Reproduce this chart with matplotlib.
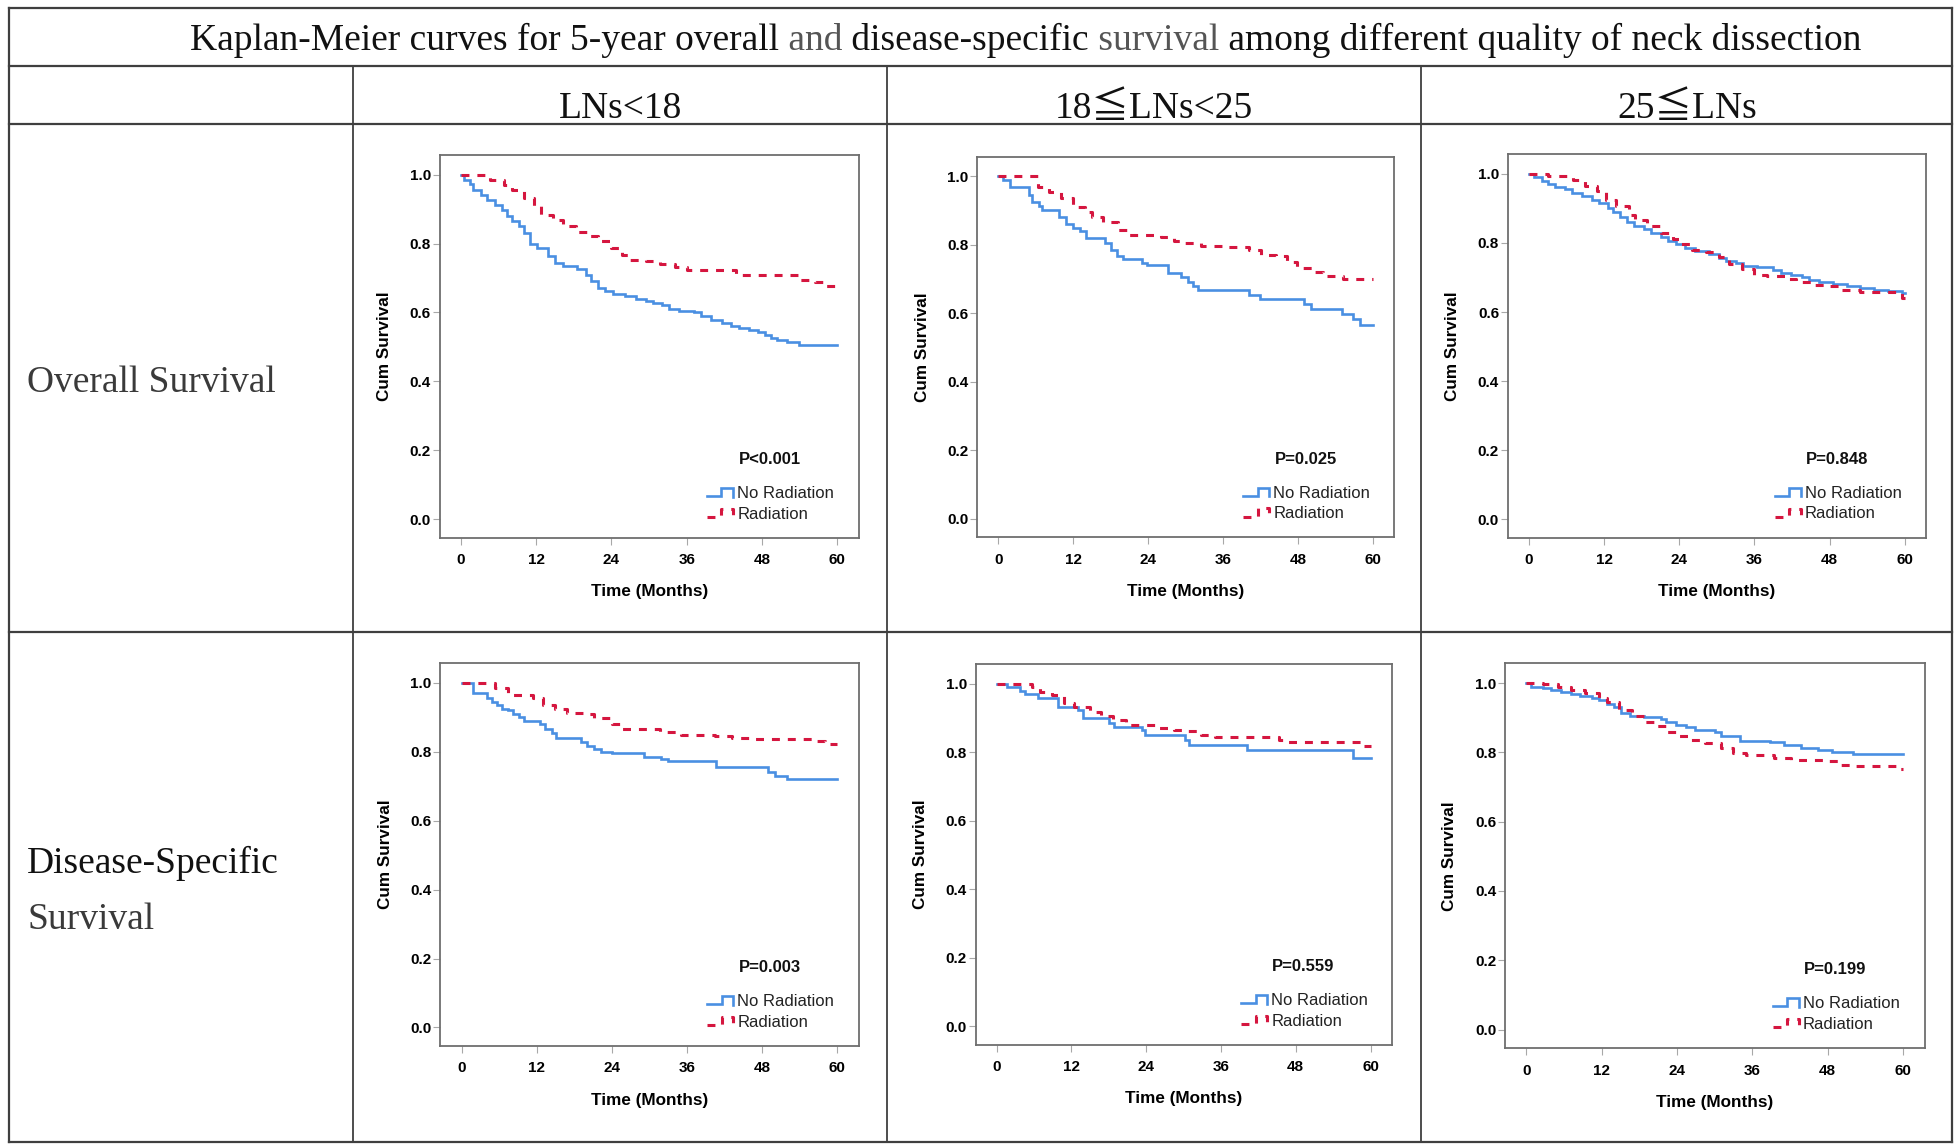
import matplotlib
matplotlib.use("Agg")
import matplotlib.pyplot as plt
from matplotlib.lines import Line2D
from matplotlib.text import Annotation
from matplotlib.legend_handler import HandlerBase
from matplotlib import font_manager

# ---------------- data ----------------
TITLE_PIECES = ["Kaplan-Meier curves for 5-year overall", " and", " disease-specific",
                " survival", " among different quality of neck dissection"]
COLUMN_LABELS = ["LNs<18", "18≦LNs<25", "25≦LNs"]
ROW_LABELS = [["Overall Survival"], ["Disease-Specific", "Survival"]]
SERIES_LABELS = ["No Radiation", "Radiation"]
P_VALUES = ["P<0.001", "P=0.025", "P=0.848", "P=0.003", "P=0.559", "P=0.199"]
X_TICKS = [0, 12, 24, 36, 48, 60]
Y_TICKS = [0.0, 0.2, 0.4, 0.6, 0.8, 1.0]
X_LABEL = "Time (Months)"
Y_LABEL = "Cum Survival"

# Overall survival, LNs<18
OS_LT18_NO_T = [0, 0.5, 1.5, 2.0, 3.2, 4.2, 5.5, 6.5, 7.3, 8.1, 9.2, 10.0, 11.0, 12.2, 13.9, 15.0,
                16.3, 18.5, 19.9, 20.7, 21.8, 22.9, 24.3, 26.2, 27.9, 29.5, 30.6, 32.0, 33.1, 34.7,
                37.2, 38.3, 39.9, 41.6, 43.0, 44.3, 46.0, 47.3, 48.4, 49.5, 50.4, 52.0, 53.9, 60]
OS_LT18_NO_S = [1.0, 0.985, 0.974, 0.955, 0.94, 0.925, 0.912, 0.898, 0.88, 0.864, 0.85, 0.83, 0.80,
                0.787, 0.763, 0.743, 0.736, 0.726, 0.71, 0.69, 0.671, 0.661, 0.654, 0.649, 0.639,
                0.632, 0.627, 0.622, 0.61, 0.605, 0.601, 0.591, 0.579, 0.569, 0.561, 0.555, 0.55,
                0.542, 0.535, 0.526, 0.519, 0.514, 0.506, 0.506]
OS_LT18_RAD_T = [0, 4.6, 6.8, 8.1, 10.0, 11.7, 12.8, 14.7, 16.3, 18.3, 20.2, 21.8, 24.0, 25.7, 27.0,
                 29.5, 31.7, 34.2, 36.1, 43.8, 54.0, 56.4, 58.0, 60]
OS_LT18_RAD_S = [1.0, 0.985, 0.971, 0.955, 0.932, 0.908, 0.884, 0.869, 0.85, 0.833, 0.821, 0.806,
                 0.787, 0.768, 0.753, 0.748, 0.742, 0.731, 0.722, 0.708, 0.693, 0.687, 0.677, 0.677]

# Overall survival, 18<=LNs<25
OS_18_25_NO_T = [0, 0.8, 1.9, 4.9, 5.4, 6.5, 7.0, 9.7, 10.8, 12.0, 13.0, 14.0, 17.0, 18.1, 19.0, 20.0,
                 23.0, 23.8, 27.1, 29.2, 30.3, 31.1, 31.9, 40.1, 41.9, 49.0, 50.1, 55.0, 56.8, 57.9, 60]
OS_18_25_NO_S = [1.0, 0.99, 0.97, 0.944, 0.924, 0.914, 0.9, 0.88, 0.86, 0.85, 0.84, 0.82, 0.806,
                 0.786, 0.767, 0.757, 0.746, 0.74, 0.717, 0.707, 0.69, 0.68, 0.667, 0.652, 0.642,
                 0.628, 0.613, 0.599, 0.584, 0.565, 0.565]
OS_18_25_RAD_T = [0, 6.3, 8.1, 10.0, 11.9, 13.8, 15.0, 16.8, 19.2, 20.6, 26.0, 28.1, 29.8, 32.5, 36.0,
                  40.1, 42.0, 44.4, 46.3, 47.9, 50.4, 52.0, 55.2, 60]
OS_18_25_RAD_S = [1.0, 0.968, 0.953, 0.937, 0.91, 0.895, 0.88, 0.866, 0.842, 0.829, 0.824, 0.81,
                  0.804, 0.796, 0.792, 0.785, 0.771, 0.766, 0.751, 0.731, 0.72, 0.71, 0.70, 0.70]

# Overall survival, 25<=LNs
OS_GE25_NO_T = [0, 0.8, 2.1, 3.0, 4.1, 5.7, 6.8, 8.4, 10.1, 11.2, 12.6, 13.4, 14.5, 15.6, 16.7, 18.3,
                19.4, 21.1, 22.2, 23.5, 24.9, 26.5, 28.7, 30.4, 31.5, 33.1, 34.2, 36.4, 38.9, 40.3,
                41.9, 43.6, 44.7, 46.3, 48.5, 50.7, 52.9, 55.1, 57.3, 59.5, 60]
OS_GE25_NO_S = [1.0, 0.99, 0.98, 0.97, 0.962, 0.955, 0.945, 0.935, 0.925, 0.915, 0.9, 0.89, 0.875,
                0.86, 0.85, 0.84, 0.828, 0.818, 0.806, 0.796, 0.786, 0.776, 0.768, 0.757, 0.748,
                0.742, 0.733, 0.729, 0.722, 0.714, 0.708, 0.702, 0.693, 0.688, 0.682, 0.676, 0.67,
                0.665, 0.661, 0.655, 0.655]
OS_GE25_RAD_T = [0, 3.0, 7.1, 9.0, 10.9, 12.3, 13.9, 15.9, 17.0, 18.9, 21.1, 23.0, 24.1, 26.0, 28.2,
                 30.4, 32.0, 34.0, 35.9, 38.0, 40.8, 42.7, 45.2, 47.4, 49.9, 52.9, 59.5, 60]
OS_GE25_RAD_S = [1.0, 0.993, 0.983, 0.964, 0.95, 0.926, 0.906, 0.882, 0.868, 0.848, 0.829, 0.812,
                 0.798, 0.78, 0.773, 0.76, 0.74, 0.725, 0.708, 0.703, 0.696, 0.686, 0.679, 0.674,
                 0.665, 0.658, 0.64, 0.64]

# Disease-specific survival, LNs<18
DSS_LT18_NO_T = [0, 1.8, 4.0, 4.8, 5.6, 6.4, 7.5, 8.3, 9.2, 10.0, 12.5, 13.3, 14.4, 15.1, 19.0, 20.1,
                 21.2, 22.3, 24.0, 29.2, 31.9, 33.0, 40.7, 49.0, 50.1, 52.0, 60]
DSS_LT18_NO_S = [1.0, 0.97, 0.955, 0.945, 0.935, 0.925, 0.92, 0.91, 0.9, 0.89, 0.88, 0.867, 0.854,
                 0.84, 0.828, 0.818, 0.808, 0.8, 0.797, 0.786, 0.78, 0.773, 0.756, 0.742, 0.729,
                 0.72, 0.72]
DSS_LT18_RAD_T = [0, 5.3, 7.5, 11.4, 13.0, 14.9, 16.8, 19.6, 21.2, 24.0, 25.6, 31.7, 35.0, 40.5,
                  43.2, 46.0, 56.4, 58.0, 60]
DSS_LT18_RAD_S = [1.0, 0.985, 0.965, 0.955, 0.935, 0.925, 0.913, 0.909, 0.898, 0.881, 0.865, 0.859,
                  0.85, 0.845, 0.84, 0.836, 0.831, 0.822, 0.822]

# Disease-specific survival, 18<=LNs<25
DSS_18_25_NO_T = [0, 1.6, 3.7, 4.6, 6.7, 9.8, 13.0, 13.8, 18.1, 18.9, 23.3, 23.8, 30.3, 30.9, 40.1,
                  57.2, 60]
DSS_18_25_NO_S = [1.0, 0.991, 0.98, 0.97, 0.96, 0.931, 0.923, 0.899, 0.886, 0.875, 0.865, 0.85,
                  0.836, 0.821, 0.807, 0.784, 0.784]
DSS_18_25_RAD_T = [0, 5.6, 7.0, 8.9, 10.8, 12.4, 14.9, 16.8, 18.7, 20.8, 26.0, 28.4, 30.5, 32.8,
                   35.0, 45.3, 46.0, 58.5, 60]
DSS_18_25_RAD_S = [1.0, 0.99, 0.977, 0.967, 0.943, 0.933, 0.918, 0.906, 0.894, 0.88, 0.872, 0.865,
                   0.861, 0.852, 0.845, 0.836, 0.829, 0.818, 0.818]

# Disease-specific survival, 25<=LNs
DSS_GE25_NO_T = [0, 0.7, 2.6, 3.9, 5.6, 7.2, 8.6, 10.5, 11.6, 12.9, 14.0, 15.1, 16.5, 18.7, 21.4,
                 22.2, 23.9, 25.5, 26.9, 30.1, 31.0, 34.0, 38.9, 41.0, 43.8, 46.5, 48.7, 52.0, 60]
DSS_GE25_NO_S = [1.0, 0.99, 0.985, 0.979, 0.973, 0.968, 0.964, 0.957, 0.95, 0.94, 0.931, 0.915,
                 0.906, 0.902, 0.896, 0.889, 0.88, 0.873, 0.865, 0.86, 0.846, 0.834, 0.829, 0.822,
                 0.812, 0.807, 0.8, 0.795, 0.795]
DSS_GE25_RAD_T = [0, 2.6, 5.0, 7.2, 9.4, 11.6, 12.9, 14.8, 16.8, 18.7, 20.3, 22.2, 24.4, 26.3, 28.5,
                  31.0, 32.9, 35.0, 39.4, 42.1, 47.6, 49.8, 52.2, 59.2, 60]
DSS_GE25_RAD_S = [1.0, 0.997, 0.988, 0.981, 0.971, 0.957, 0.944, 0.923, 0.906, 0.889, 0.875, 0.86,
                  0.846, 0.836, 0.827, 0.812, 0.798, 0.793, 0.783, 0.778, 0.774, 0.764, 0.761,
                  0.751, 0.751]

PANEL_DATA = [
    (OS_LT18_NO_T, OS_LT18_NO_S, OS_LT18_RAD_T, OS_LT18_RAD_S),
    (OS_18_25_NO_T, OS_18_25_NO_S, OS_18_25_RAD_T, OS_18_25_RAD_S),
    (OS_GE25_NO_T, OS_GE25_NO_S, OS_GE25_RAD_T, OS_GE25_RAD_S),
    (DSS_LT18_NO_T, DSS_LT18_NO_S, DSS_LT18_RAD_T, DSS_LT18_RAD_S),
    (DSS_18_25_NO_T, DSS_18_25_NO_S, DSS_18_25_RAD_T, DSS_18_25_RAD_S),
    (DSS_GE25_NO_T, DSS_GE25_NO_S, DSS_GE25_RAD_T, DSS_GE25_RAD_S),
]

# ---------------- layout / style ----------------
W, H = 1959, 1148
BLUE = "#4A8FE2"
RED = "#D5163F"
GRID = "#3f3f3f"
SERIF = ["Liberation Serif", "Noto Sans CJK JP", "DejaVu Serif", "DejaVu Sans"]
SANS = ["Liberation Sans", "DejaVu Sans"]
_names = {f.name for f in font_manager.fontManager.ttflist}
NARROW = ["Liberation Sans Narrow"] + SANS if "Liberation Sans Narrow" in _names else SANS

# table geometry in pixels
T_LEFT, T_RIGHT = 9, 1952
H_LINES = [8, 66, 124, 632, 1142]
V_LINES_FULL = [9, 1952]
V_LINES_INNER = [353, 887, 1421]
COL_CENTERS = [620, 1154, 1687]

# axes frames (left, right, top, bottom) in pixels
AX_RECTS = [
    (439.5, 859.0, 155.0, 537.7),
    (977.2, 1394.4, 156.7, 537.3),
    (1507.7, 1926.4, 154.3, 537.7),
    (440.2, 859.0, 663.3, 1046.0),
    (975.5, 1392.0, 664.3, 1045.0),
    (1504.9, 1924.6, 663.3, 1048.3),
]


def fx(x):
    return x / W


def fy(y):
    return 1 - y / H


class StepHandler(HandlerBase):
    def create_artists(self, legend, orig_handle, xdescent, ydescent, width, height, fontsize, trans):
        x0, y0 = -xdescent, -ydescent
        xs = [x0, x0 + 0.55 * width, x0 + 0.55 * width, x0 + width, x0 + width]
        ys = [y0 + 0.15 * height, y0 + 0.15 * height, y0 + 0.85 * height,
              y0 + 0.85 * height, y0 + 0.1 * height]
        line = Line2D(xs, ys)
        line.update_from(orig_handle)
        line.set_drawstyle("default")
        line.set_transform(trans)
        return [line]


fig = plt.figure(figsize=(W / 100, H / 100), dpi=100)
fig.patch.set_facecolor("white")

# ---------------- table grid ----------------
for y in H_LINES:
    fig.add_artist(Line2D([fx(T_LEFT), fx(T_RIGHT)], [fy(y), fy(y)], transform=fig.transFigure,
                          color=GRID, lw=1.6, solid_capstyle="projecting"))
for x in V_LINES_FULL:
    fig.add_artist(Line2D([fx(x), fx(x)], [fy(H_LINES[0]), fy(H_LINES[-1])], transform=fig.transFigure,
                          color=GRID, lw=1.6, solid_capstyle="projecting"))
for x in V_LINES_INNER:
    fig.add_artist(Line2D([fx(x), fx(x)], [fy(H_LINES[1]), fy(H_LINES[-1])], transform=fig.transFigure,
                          color=GRID, lw=1.3))

# ---------------- title (pieces with slightly different tones) ----------------
title_colors = ["#111111", "#555555", "#111111", "#555555", "#111111"]
prev = fig.text(fx(190), fy(50), TITLE_PIECES[0], ha="left", va="baseline",
                fontsize=27, family=SERIF, color=title_colors[0])
for piece, col in zip(TITLE_PIECES[1:], title_colors[1:]):
    ann = Annotation(piece, xy=(1, 0), xycoords=prev, xytext=(0, 0), textcoords="offset points",
                     ha="left", va="bottom", fontsize=27, family=SERIF, color=col)
    fig.add_artist(ann)
    prev = ann

# ---------------- column headers ----------------
for cx, lab in zip(COL_CENTERS, COLUMN_LABELS):
    fig.text(fx(cx), fy(118), lab, ha="center", va="baseline", fontsize=27, family=SERIF,
             color="#111111")

# ---------------- row labels ----------------
fig.text(fx(27), fy(392), ROW_LABELS[0][0], ha="left", va="baseline", fontsize=27,
         family=SERIF, color="#3a3a3a")
fig.text(fx(27), fy(873), ROW_LABELS[1][0], ha="left", va="baseline", fontsize=27,
         family=SERIF, color="#111111")
fig.text(fx(27), fy(929), ROW_LABELS[1][1], ha="left", va="baseline", fontsize=27,
         family=SERIF, color="#3a3a3a")

# ---------------- KM panels ----------------
for (l, r, t, b), (tn, sn, tr, sr), pval in zip(AX_RECTS, PANEL_DATA, P_VALUES):
    wpx, hpx = r - l, b - t
    ax = fig.add_axes([fx(l), fy(b), wpx / W, hpx / H])
    h_no, = ax.plot(tn, sn, drawstyle="steps-post", color=BLUE, lw=1.9,
                    solid_joinstyle="miter")
    h_rad, = ax.plot(tr, sr, drawstyle="steps-post", color=RED, lw=2.2,
                     linestyle=(0, (2.6, 2.6)), dash_capstyle="butt")
    ax.set_xlim(-3.4, 63.45)
    ax.set_ylim(-0.054, 1.057)
    ax.set_xticks(X_TICKS)
    ax.set_yticks(Y_TICKS)
    ax.set_xticklabels([str(v) for v in X_TICKS], family=NARROW, fontweight="bold", fontsize=11)
    ax.set_yticklabels([f"{v:.1f}" for v in Y_TICKS], family=NARROW, fontweight="bold", fontsize=11)
    ax.tick_params(axis="both", direction="out", length=5, width=0.8, color="#a8a8a8")
    ax.tick_params(axis="x", pad=6)
    ax.tick_params(axis="y", pad=1.2)
    for sp in ax.spines.values():
        sp.set_color("#6e6e6e")
        sp.set_linewidth(1.3)
    ax.set_xlabel(X_LABEL, fontsize=12.3, fontweight="bold", family=SANS)
    ax.set_ylabel(Y_LABEL, fontsize=12.3, fontweight="bold", family=SANS)
    ax.xaxis.set_label_coords(0.5, -54 / hpx)
    ax.xaxis.label.set_verticalalignment("center")
    ax.yaxis.set_label_coords(-55 / wpx, 0.5)
    ax.yaxis.label.set_verticalalignment("center")
    ax.text(0.787, 0.205, pval, transform=ax.transAxes, ha="center", va="center",
            fontsize=12, fontweight="bold", family=SANS, color="#111111")
    leg = ax.legend([h_no, h_rad], SERIES_LABELS, handler_map={Line2D: StepHandler()},
                    loc="center left", bbox_to_anchor=(0.638, 0.089), frameon=False,
                    prop={"family": SANS, "size": 12}, handlelength=1.56, handletextpad=0.24,
                    labelspacing=0.35, borderpad=0, borderaxespad=0)
    for txt in leg.get_texts():
        txt.set_color("#222222")

fig.savefig("out.png", dpi=100, facecolor="white")
